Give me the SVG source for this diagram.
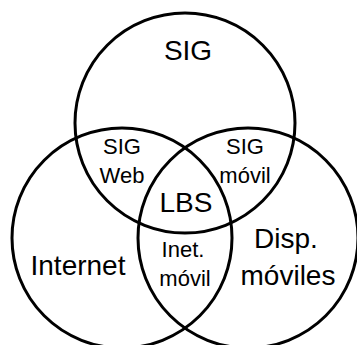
<svg xmlns="http://www.w3.org/2000/svg" width="357" height="345" viewBox="0 0 357 345">
<style>
.c{fill:none;stroke:#000;stroke-width:3}
.t{font-family:"Liberation Sans",Arial,sans-serif;fill:#000;text-anchor:middle}
.l{font-size:28px}
.s{font-size:22px}
</style>
<rect width="357" height="345" fill="#fff"/>
<g id="sig"><circle class="c" cx="185" cy="123" r="110"/><text class="t l" x="188" y="60">SIG</text></g>
<g id="internet"><circle class="c" cx="122" cy="238" r="110"/><text class="t l" x="78" y="275">Internet</text></g>
<g id="disp"><circle class="c" cx="248" cy="238" r="110"/><text class="t l" x="286" y="248">Disp.</text><text class="t l" x="288" y="285">móviles</text></g>
<g id="sigweb"><text class="t s" x="122" y="154">SIG</text><text class="t s" x="122" y="183">Web</text></g>
<g id="sigmovil"><text class="t s" x="245" y="154">SIG</text><text class="t s" x="245" y="183">móvil</text></g>
<g id="lbs"><text class="t l" x="186" y="212">LBS</text></g>
<g id="inetmovil"><text class="t s" x="183" y="257">Inet.</text><text class="t s" x="185" y="286">móvil</text></g>
<g id="connectors"></g>
</svg>
